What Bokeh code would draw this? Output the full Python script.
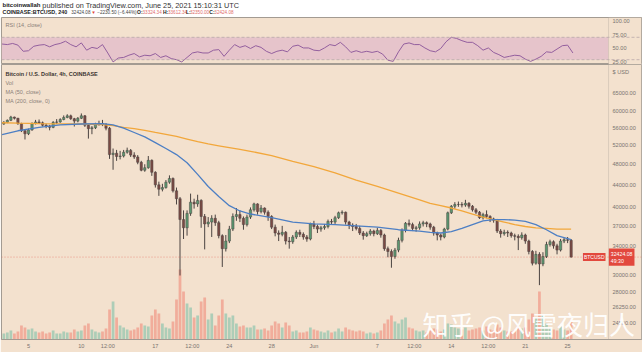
from bokeh.plotting import figure
from bokeh.layouts import column
from bokeh.models import (Range1d, LinearScale, FixedTicker, PrintfTickFormatter,
                          Span, BoxAnnotation, Label, ColumnDataSource)
from bokeh.embed import file_html
from bokeh.resources import INLINE
from bokeh.core.properties import value

# ---------------- data (8h candles, BTCUSD, May 2 16:00 -> Jun 25 08:00) ----------------
first_open = 56900
first_day = 2 + 2 / 3          # day number counted from Apr 30 (May 1 = 1, Jun 1 = 32)

close = [
    57300,
    57800, 58600, 58300,  57000, 55300, 54600,
    55500, 57000, 57400,  57200, 56600, 56400,
    56100, 57300, 57400,  58000, 58500, 58900,
    58200, 57600, 58300,  58900, 56600, 55800,
    56000, 56900, 57000,  56800, 55900, 50000,
    50300, 49600, 49700,  50500, 50900, 49900,
    49500, 48400, 46800,  47300, 48800, 46400,
    44000, 43200, 43500,  44500, 45200, 42900,
    41500, 38000, 36700,  39000, 40900, 40600,
    41200, 38500, 37300,  37600, 38200, 37500,
    35500, 33600, 34700,  36500, 38500, 38800,
    38200, 37200, 38400,  39600, 40600, 39300,
    39900, 39200, 38500,  36800, 35900, 35700,
    36000, 34700, 34600,  35300, 36000, 35700,
    35300, 35000, 37300,
    36900, 36500, 36700,  36900, 37700, 37600,
    38300, 39100, 39200,  37600, 37100, 36900,
    36600, 35900, 35500,  35800, 36200, 35800,
    36300, 35600, 33600,  33200, 32500, 33400,
    34800, 36300, 37400,  37200, 36600, 36700,
    37300, 37500, 37300,  36800, 35900, 35600,
    35300, 36500, 39100,  40200, 40500, 40500,
    40400, 40700, 40200,  39600, 39200, 38300,
    38800, 38500, 38100,  37900, 36200, 35800,
    36000, 35900, 35500,  35400, 35200, 35600,
    34700, 33200, 31600,  32800, 31500, 32500,
    34200, 34600, 34000,  33400, 34700, 34900,
    34800, 32424.08,
]

high = [
    57600,
    58000, 58900, 58700,  58400, 57200, 55600,
    55800, 57300, 57900,  58000, 57500, 57000,
    56700, 57600, 58100,  58300, 59000, 59300,
    59200, 58400, 58600,  59500, 59100, 56900,
    56400, 57200, 57700,  57900, 57100, 56200,
    51300, 51000, 50800,  51000, 51500, 51200,
    50500, 49900, 48700,  48000, 49700, 49000,
    46600, 44600, 44200,  44900, 45800, 45400,
    43500, 41800, 39500,  39500, 42400, 41500,
    42200, 41400, 38900,  38400, 38700, 38800,
    37800, 35700, 35600,  37000, 39000, 39900,
    39500, 38500, 38800,  40000, 40800, 40700,
    40400, 40000, 39500,  38700, 37200, 36300,
    37000, 36200, 35300,  35600, 36300, 36400,
    36000, 35600, 37500,
    37800, 37200, 37000,  37300, 38000, 38100,
    38600, 39300, 39500,  39300, 37800, 37400,
    37300, 37000, 36200,  36100, 36500, 36400,
    36700, 36500, 35800,  33900, 33500, 33700,
    35200, 36600, 37600,  38000, 37500, 37000,
    37700, 37800, 37700,  37500, 37000, 36100,
    35800, 36700, 39300,  40400, 40900, 41000,
    40900, 41300, 40900,  40400, 39900, 39400,
    39100, 39500, 38700,  38300, 38100, 36500,
    36400, 36300, 36100,  35800, 35700, 36000,
    35800, 34900, 33400,  33300, 33100, 33100,
    34600, 34900, 34800,  34300, 35000, 35200,
    35300, 35000,
]

low = [
    56700,
    57100, 57600, 58000,  56700, 55000, 53300,
    54300, 55300, 56800,  56900, 56300, 55900,
    55400, 55900, 56900,  57200, 57800, 58300,
    57900, 56300, 57300,  58100, 56200, 53500,
    54500, 55700, 56500,  56400, 55400, 49100,
    46900, 48700, 49000,  49400, 50200, 49500,
    49100, 48000, 46600,  46500, 47100, 45700,
    43500, 42000, 42800,  43300, 44200, 42600,
    40500, 30000, 35000,  35500, 38600, 39800,
    40100, 36700, 33500,  36800, 35300, 37000,
    35100, 31100, 33200,  34400, 36200, 37800,
    37600, 36400, 36900,  38100, 39300, 38800,
    39000, 38800, 37800,  36500, 35400, 34700,
    35400, 34200, 33600,  34300, 35000, 35300,
    34900, 34600, 34800,
    36500, 35900, 36100,  36400, 36600, 37300,
    37300, 38100, 38800,  37200, 36500, 36200,
    36300, 35600, 34900,  35300, 35500, 35400,
    35600, 35200, 33300,  32400, 31000, 32200,
    33100, 34500, 36000,  36900, 36200, 36100,
    36400, 36900, 36800,  36400, 35500, 34800,
    34800, 35100, 36300,  38900, 39800, 40100,
    40000, 40100, 39800,  39300, 38900, 38100,
    38000, 38200, 37600,  37500, 35900, 35200,
    35500, 35300, 35200,  34800, 33400, 34900,
    34300, 32800, 31300,  31400, 28800, 31200,
    32300, 33900, 33600,  32800, 33200, 34400,
    34400, 32350,
]

volume = [
    6,
    7, 9, 6,  8, 14, 12,  10, 11, 8,  7, 8, 6,  7, 9, 6,
    6, 8, 7,  7, 10, 8,  9, 14, 16,  10, 8, 7,  8, 11, 30,
    38, 22, 14,  12, 10, 9,  10, 12, 16,  14, 13, 24,  30, 26, 16,
    12, 11, 18,  40, 70, 48,  36, 32, 22,  24, 38, 42,  20, 26, 14,
    24, 40, 26,  22, 24, 16,  13, 14, 12,  12, 14, 10,  10, 11, 9,
    14, 18, 16,  12, 17, 14,  8, 9, 7,  7, 8, 12,
    10, 9, 8,  7, 9, 7,  8, 11, 8,  12, 10, 9,  8, 9, 8,  6, 7, 6,
    7, 9, 16,  20, 24, 18,  16, 20, 22,  12, 11, 9,  8, 9, 7,
    9, 11, 10,  8, 10, 16,  15, 12, 11,  10, 12, 9,  10, 11, 12,
    9, 13, 10,  9, 15, 12,  9, 8, 8,  9, 14, 11,  12, 20, 26,
    22, 48, 24,  16, 12, 10,  9, 13, 10,  9, 18,
]

ma_day = [2.5, 4, 6, 8, 10, 12, 13, 14, 15, 16, 17, 18, 19, 20, 21, 22, 23, 24, 25, 26,
          28, 30, 32, 34, 36, 38, 40, 42, 43, 44, 45, 46, 47, 48, 49, 50, 51, 52, 53, 54,
          55, 56.33]
ma50 = [54400, 55300, 56100, 56700, 56900, 57000, 56700, 55900, 54900, 53900,
        52600, 51300, 50000, 48300, 46000, 43700, 41900, 40300, 39400, 38900,
        38300, 37600, 37300, 37200, 37000, 36800, 36400, 36200, 36000, 35900,
        36100, 36600, 37200, 37800, 38000, 38000, 37900, 37700, 37200, 36400,
        35500, 34900]
ma200 = [57200, 57100, 57000, 56950, 56900, 56750, 56500, 56100, 55800, 55400,
         54900, 54450, 54000, 53400, 52800, 52300, 51900, 51500, 51100, 50700,
         49800, 48600, 47500, 46300, 44900, 43700, 42500, 41300, 40700, 40300,
         39900, 39400, 38900, 38400, 38000, 37600, 37200, 36900, 36700, 36600,
         36500, 36500]

rsi_first_day = 2.5
rsi = [58, 57, 59, 56, 45, 46, 54, 56, 57, 53,
       57, 59, 63, 57, 53, 60, 47, 52, 50, 57,
       42, 26, 33, 34, 38, 41, 35, 38, 37, 41,
       34, 37, 32, 30, 26, 34, 42, 44, 42, 42,
       47, 48, 36, 47, 57, 52, 55, 50, 55, 52,
       45, 41, 45, 47, 44, 54, 56, 51, 51, 47,
       46, 51, 57, 55, 61, 53, 43, 46, 43, 45,
       43, 45, 40, 29, 27, 44, 58, 60, 57, 57,
       51, 46, 44, 50, 62, 70, 68, 64, 61, 61,
       55, 47, 51, 43, 39, 34, 36, 38, 37, 31,
       27, 31, 36, 44, 43, 49, 55, 56, 42]

x_ticks = [5, 10, 12.5, 17, 20.5, 24, 28, 32, 38, 41.5, 45, 48.5, 52, 56]
x_labels = ["5", "10", "12:00", "17", "12:00", "24", "28", "Jun", "7", "12:00", "14", "12:00", "21", "25"]
price_ticks = [24500, 26250, 28000, 30000, 34000, 37000, 40000, 44000, 48000, 52000, 56000, 60000, 65000]
usd_tick = 70740
rsi_ticks = [25, 50, 75, 100]
last_price = 32424.08

assert len(close) == len(high) == len(low) == len(volume) == 162
assert len(ma_day) == len(ma50) == len(ma200)

# ---------------- style ----------------
BG = "#f3e1ce"
FRAME = "#a39b92"
FONT = "Liberation Sans"
UP, DN, WICK = "#5b9870", "#7a4a44", "#4a4340"
VUP, VDN = "#7fbfa8", "#f08a7a"
RED = "#e2483d"
AXIS_DAY = 59.873          # where the price scale starts (the frame runs on under it)

xr = Range1d(2.446, 62.99)

# ---------------- header ----------------
h = figure(width=642, height=17, x_range=Range1d(0, 642), y_range=Range1d(17, 0),
           toolbar_location=None, output_backend="svg", x_axis_location=None,
           y_axis_location=None, min_border=0)
h.grid.visible = False
h.outline_line_color = None
h.background_fill_color = "white"
h.border_fill_color = "white"


def htext(txt, x, y, color="#222222", bold=False, size="6px"):
    h.text(x=[x], y=[y], text=[txt], text_font=value(FONT), text_font_size=size,
           text_color=color, text_font_style="bold" if bold else "normal",
           text_baseline="middle", text_align="left")


htext("bitcoinwallah", 1, 4.6, bold=True, size="6px")
htext("published on TradingView.com, June 25, 2021 15:10:31 UTC", 41, 4.6, color="#333333", size="7.3px")
vals_red = "#e06a6a"
L2 = 11.8
htext("COINBASE:BTCUSD, 240", 1, L2, bold=True, size="5.4px")
htext("32424.08", 70, L2, color="#444444", size="4.6px")
htext("▼", 90, L2, color=RED, size="4.6px")
htext("−2230.50 (−6.44%)", 96, L2, color="#444444", size="4.6px")
htext("O:", 136, L2, bold=True, size="5px")
htext("33324.34", 141.5, L2, color=vals_red, size="4.6px")
htext("H:", 162, L2, bold=True, size="5px")
htext("33612.34", 167, L2, color=vals_red, size="4.6px")
htext("L:", 185, L2, bold=True, size="5px")
htext("32350.00", 189, L2, color=vals_red, size="4.6px")
htext("C:", 208.5, L2, bold=True, size="5px")
htext("32424.08", 213.5, L2, color=vals_red, size="4.6px")


def style_price_axis(ax):
    ax.axis_line_color = None
    ax.major_tick_line_color = None
    ax.minor_tick_line_color = None
    ax.major_tick_out = 0
    ax.major_tick_in = 0
    ax.major_label_text_font = FONT
    ax.major_label_text_font_size = "5.6px"
    ax.major_label_text_color = "#7a7470"
    ax.major_label_standoff = -29


def add_scale_panel(fig):
    fig.add_layout(BoxAnnotation(left=AXIS_DAY, fill_color=BG, fill_alpha=1.0,
                                 line_color=FRAME, line_width=1, level="underlay"))


# ---------------- RSI pane ----------------
r = figure(width=642, height=47, x_range=xr, y_range=Range1d(21.4, 105.4),
           toolbar_location=None, output_backend="svg", x_axis_location=None,
           y_axis_location="right", min_border_left=1, min_border_right=1,
           min_border_top=0, min_border_bottom=0)
r.grid.visible = False
r.background_fill_color = BG
r.border_fill_color = BG
r.outline_line_color = FRAME
r.yaxis.ticker = FixedTicker(ticks=rsi_ticks)
r.yaxis.formatter = PrintfTickFormatter(format="%.2f")
style_price_axis(r.yaxis[0])
r.add_layout(BoxAnnotation(bottom=30, top=70, right=AXIS_DAY, fill_color="#e6c4cb",
                           fill_alpha=1.0, line_color=None, level="underlay"))
add_scale_panel(r)
for lv in (30, 70):
    r.add_layout(Span(location=lv, dimension="width", line_color="#b8a8a8", line_dash="3 2", line_width=0.8))
rsi_days = [rsi_first_day + 0.5 * k for k in range(len(rsi))]
r.line(rsi_days, rsi, line_color="#935f9e", line_width=1)
r.add_layout(Label(x=4, y=40, x_units="screen", y_units="screen", text="RSI (14, close)",
                   text_font=FONT, text_font_size="5.5px", text_color="#8a8078",
                   text_baseline="middle"))

# ---------------- main pane ----------------
m = figure(width=642, height=288, x_range=xr, y_range=Range1d(22890, 73170), y_axis_type="log",
           y_axis_location="right", toolbar_location=None, output_backend="svg",
           min_border_left=1, min_border_right=1, min_border_top=0, min_border_bottom=13)
m.grid.visible = False
m.background_fill_color = BG
m.border_fill_color = BG
m.outline_line_color = FRAME
m.extra_y_ranges = {"vol": Range1d(0, 275)}
m.extra_y_scales = {"vol": LinearScale()}

m.yaxis.ticker = FixedTicker(ticks=price_ticks + [usd_tick])
m.yaxis.formatter = PrintfTickFormatter(format="%.2f")
m.yaxis.major_label_overrides = {usd_tick: "$ USD"}
style_price_axis(m.yaxis[0])
xa = m.xaxis[0]
xa.ticker = FixedTicker(ticks=x_ticks)
xa.major_label_overrides = dict(zip(x_ticks, x_labels))
xa.axis_line_color = FRAME
xa.major_tick_line_color = None
xa.minor_tick_line_color = None
xa.major_tick_out = 0
xa.major_tick_in = 0
xa.major_label_text_font = FONT
xa.major_label_text_font_size = "5.6px"
xa.major_label_text_color = "#7a7470"
xa.major_label_standoff = 3

add_scale_panel(m)

opens = [first_open] + close[:-1]
days = [first_day + i / 3 for i in range(len(close))]
ups = [c >= o for o, c in zip(opens, close)]
src = ColumnDataSource(dict(x=days, o=opens, c=close, h=high, l=low, v=volume,
                            fill=[UP if u else DN for u in ups],
                            vfill=[VUP if u else VDN for u in ups]))

m.vbar(x="x", width=0.26, top="v", bottom=0, fill_color="vfill", fill_alpha=0.6,
       line_color=None, y_range_name="vol", source=src)
m.add_layout(Span(location=last_price, dimension="width", line_color=RED, line_alpha=0.6,
                  line_dash="1 2", line_width=0.8))
m.segment(x0="x", y0="h", x1="x", y1="l", line_color=WICK, line_width=1, source=src)
m.vbar(x="x", width=0.22, top="o", bottom="c", fill_color="fill", line_color=WICK,
       line_width=0.5, source=src)
m.line(ma_day, ma200, line_color="#f2a73b", line_width=1.3)
m.line(ma_day, ma50, line_color="#4d7fc4", line_width=1.3)

legend_rows = [("Bitcoin / U.S. Dollar, 4h, COINBASE", "#3a3430", "bold", 266),
               ("Vol", "#8a8078", "normal", 257),
               ("MA (50, close)", "#8a8078", "normal", 248),
               ("MA (200, close, 0)", "#8a8078", "normal", 239)]
for txt, col, sty, yy in legend_rows:
    m.add_layout(Label(x=4, y=yy, x_units="screen", y_units="screen", text=txt,
                       text_font=FONT, text_font_size="5.5px", text_color=col,
                       text_font_style=sty, text_baseline="middle"))

m.add_layout(Label(x=57.45, y=last_price, text="BTCUSD", text_font=FONT, text_font_size="5px",
                   text_color="white", background_fill_color=RED, text_baseline="middle",
                   padding=1))
m.add_layout(Label(x=59.9, y=last_price, text="32424.08\n49:30", text_font=FONT,
                   text_font_size="5.2px", text_color="white", background_fill_color=RED,
                   text_baseline="middle", padding=2))

m.add_layout(Label(x=42.27, y=24500, text="知乎 @风雪夜归人", text_font="Noto Sans CJK SC",
                   text_font_size="26px", text_color="white", text_alpha=0.95,
                   text_baseline="middle"))

layout = column(h, r, m, spacing=0)
open("out.html", "w").write(file_html(layout, INLINE))
